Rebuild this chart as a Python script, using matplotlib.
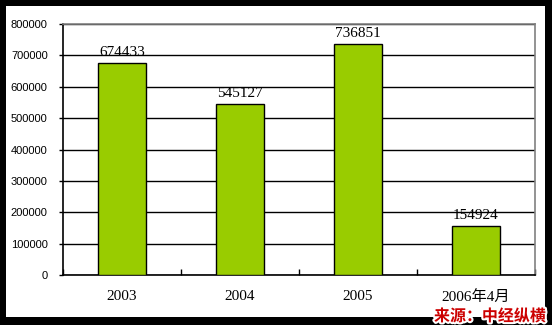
import matplotlib
matplotlib.use('Agg')
import matplotlib.pyplot as plt
import matplotlib.patheffects as pe
import numpy as np

# Data
years = ['2003', '2004', '2005', '2006年4月']
values = [674433, 545127, 736851, 154924]
yticks = [0, 100000, 200000, 300000, 400000, 500000, 600000, 700000, 800000]

fig = plt.figure(figsize=(5.52, 3.25), dpi=100, facecolor='black')
# white inner panel, black frame around it
bg = fig.add_axes([6 / 552, 8 / 325, 539 / 552, 311 / 325], zorder=-1)
bg.set_facecolor('white')
bg.set_xticks([])
bg.set_yticks([])
for s in bg.spines.values():
    s.set_visible(False)

ax = fig.add_axes([63 / 552, 50 / 325, 472 / 552, 251 / 325])
ax.set_facecolor('white')
x = np.arange(len(years))
ax.bar(x, values, width=0.4, color='#99CC00', edgecolor='black', linewidth=1, zorder=3)

ax.set_xlim(-0.5, len(years) - 0.5)
ax.set_ylim(0, 800000)
ax.set_yticks(yticks)
ax.set_yticklabels([str(v) for v in yticks], fontsize=8, family='Liberation Sans')
ax.grid(axis='y', color='black', linewidth=1, zorder=0)
ax.set_axisbelow(True)

ax.set_xticks(x)
ax.set_xticklabels(years, fontsize=11, family=['Liberation Serif', 'Noto Sans CJK SC'])
ax.tick_params(axis='x', length=0, pad=11)
ax.tick_params(axis='y', length=3, width=1, direction='out', pad=8)
# small category boundary ticks on the x axis
ax.set_xticks(np.arange(-0.5, len(years), 1.0), minor=True)
ax.tick_params(axis='x', which='minor', length=4, width=1, direction='in')

for s in ['left', 'bottom']:
    ax.spines[s].set_color('black')
    ax.spines[s].set_linewidth(1.2)
for s in ['top', 'right']:
    ax.spines[s].set_color('#808080')
    ax.spines[s].set_linewidth(1.2)

for xi, v in zip(x, values):
    ax.text(xi, v + 13000, str(v), ha='center', va='bottom', fontsize=11,
            family='Liberation Serif')

fig.text(546 / 552, 1 / 325, '来源：中经纵横', ha='right', va='bottom',
         fontsize=11.5, fontweight='bold', color='#CC0000',
         family=['Noto Sans CJK SC', 'DejaVu Sans'],
         path_effects=[pe.withStroke(linewidth=3, foreground='white')])

fig.savefig('out.png', dpi=100, facecolor='black')
